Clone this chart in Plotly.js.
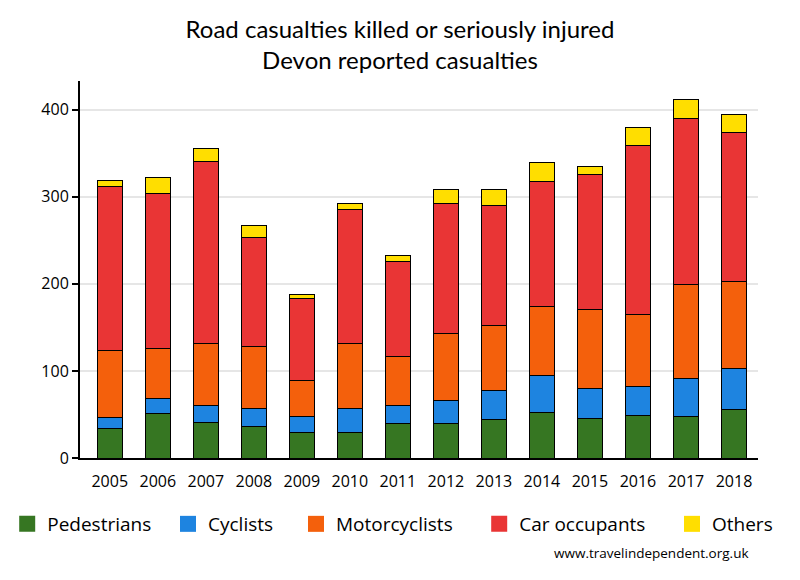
<!DOCTYPE html>
<html>
<head>
<meta charset="utf-8">
<script src="https://cdn.plot.ly/plotly-3.0.1.min.js"></script>
<style>html,body{margin:0;padding:0;background:#fff}#chart{width:800px;height:580px}</style>
</head>
<body>
<div id="chart"></div>
<script>
const years = ['2005','2006','2007','2008','2009','2010','2011','2012','2013','2014','2015','2016','2017','2018'];
const pedestrians   = [34, 51, 41, 36, 29, 29, 40, 40, 44, 52, 45, 49, 48, 56];
const cyclists      = [13, 17, 19, 21, 19, 28, 20, 26, 33, 43, 35, 33, 43, 47];
const motorcyclists = [77, 58, 71, 71, 41, 75, 57, 77, 75, 79, 91, 83, 108, 100];
const carOccupants  = [188, 178, 209, 125, 94, 153, 109, 149, 138, 144, 155, 194, 191, 171];
const others        = [7, 18, 15, 14, 5, 7, 7, 16, 18, 21, 9, 21, 22, 20];

const seriesNames = ['Pedestrians', 'Cyclists', 'Motorcyclists', 'Car occupants', 'Others'];
const seriesValues = [pedestrians, cyclists, motorcyclists, carOccupants, others];
const seriesColors = ['#367622', '#1E84E0', '#F4600C', '#E93535', '#FFDE00'];

// horizontal placement of each legend entry (fraction of the page width)
const legendX = [0.009, 0.210, 0.370, 0.599, 0.840];
const legendIds = ['legend', 'legend2', 'legend3', 'legend4', 'legend5'];

const traces = [];
seriesNames.forEach((name, i) => {
  traces.push({
    type: 'bar', x: years, y: seriesValues[i], name: name, showlegend: false,
    marker: {color: seriesColors[i], line: {color: '#000', width: 1}},
    hoverinfo: 'x+y+name'
  });
});
seriesNames.forEach((name, i) => {
  traces.push({
    type: 'scatter', mode: 'markers', x: [null], y: [null], name: name, showlegend: true,
    legend: legendIds[i],
    marker: {symbol: 'square', size: 16, color: seriesColors[i], line: {width: 0}},
    hoverinfo: 'skip'
  });
});

const layout = {
  width: 800, height: 580,
  paper_bgcolor: '#fff', plot_bgcolor: '#fff',
  margin: {l: 80, r: 42, t: 81, b: 122, pad: 0},
  barmode: 'stack', bargap: 0.49,
  font: {family: 'Open Sans, sans-serif', color: '#000', size: 16},
  title: {
    text: 'Road casualties killed or seriously injured<br>Devon reported casualties',
    font: {family: 'Lato, sans-serif', size: 24, color: '#000'},
    x: 0.5, xref: 'container', xanchor: 'center',
    y: 0.935, yref: 'container', yanchor: 'top'
  },
  xaxis: {
    type: 'category', range: [-0.62, 13.5], showgrid: false,
    showline: true, linecolor: '#000', linewidth: 2, ticks: '',
    tickfont: {size: 16, family: 'Open Sans, sans-serif', color: '#000'},
    ticklabelstandoff: 8, zeroline: false, fixedrange: true
  },
  yaxis: {
    range: [0, 433], dtick: 100, tick0: 0, showgrid: true, gridcolor: '#e6e6e6', gridwidth: 2,
    showline: true, linecolor: '#000', linewidth: 2, ticks: 'outside', ticklen: 6, tickwidth: 2, tickcolor: '#000',
    tickfont: {size: 16, family: 'Open Sans, sans-serif', color: '#000'},
    zeroline: false, fixedrange: true
  },
  annotations: [{
    text: 'www.travelindependent.org.uk', xref: 'paper', yref: 'paper',
    x: 0.9897, xanchor: 'right', y: -0.252, yanchor: 'middle', showarrow: false,
    font: {size: 13.5, family: 'Open Sans, sans-serif', color: '#000'}
  }]
};

legendIds.forEach((id, i) => {
  layout[id] = {
    orientation: 'h', x: legendX[i], xref: 'container', xanchor: 'left',
    y: 1 - 524 / 580, yref: 'container', yanchor: 'middle',
    font: {size: 19, family: 'Open Sans, sans-serif', color: '#000'},
    bgcolor: 'rgba(0,0,0,0)', itemclick: false, itemdoubleclick: false
  };
});

Plotly.newPlot('chart', traces, layout, {displayModeBar: false, staticPlot: true});
</script>
</body>
</html>
